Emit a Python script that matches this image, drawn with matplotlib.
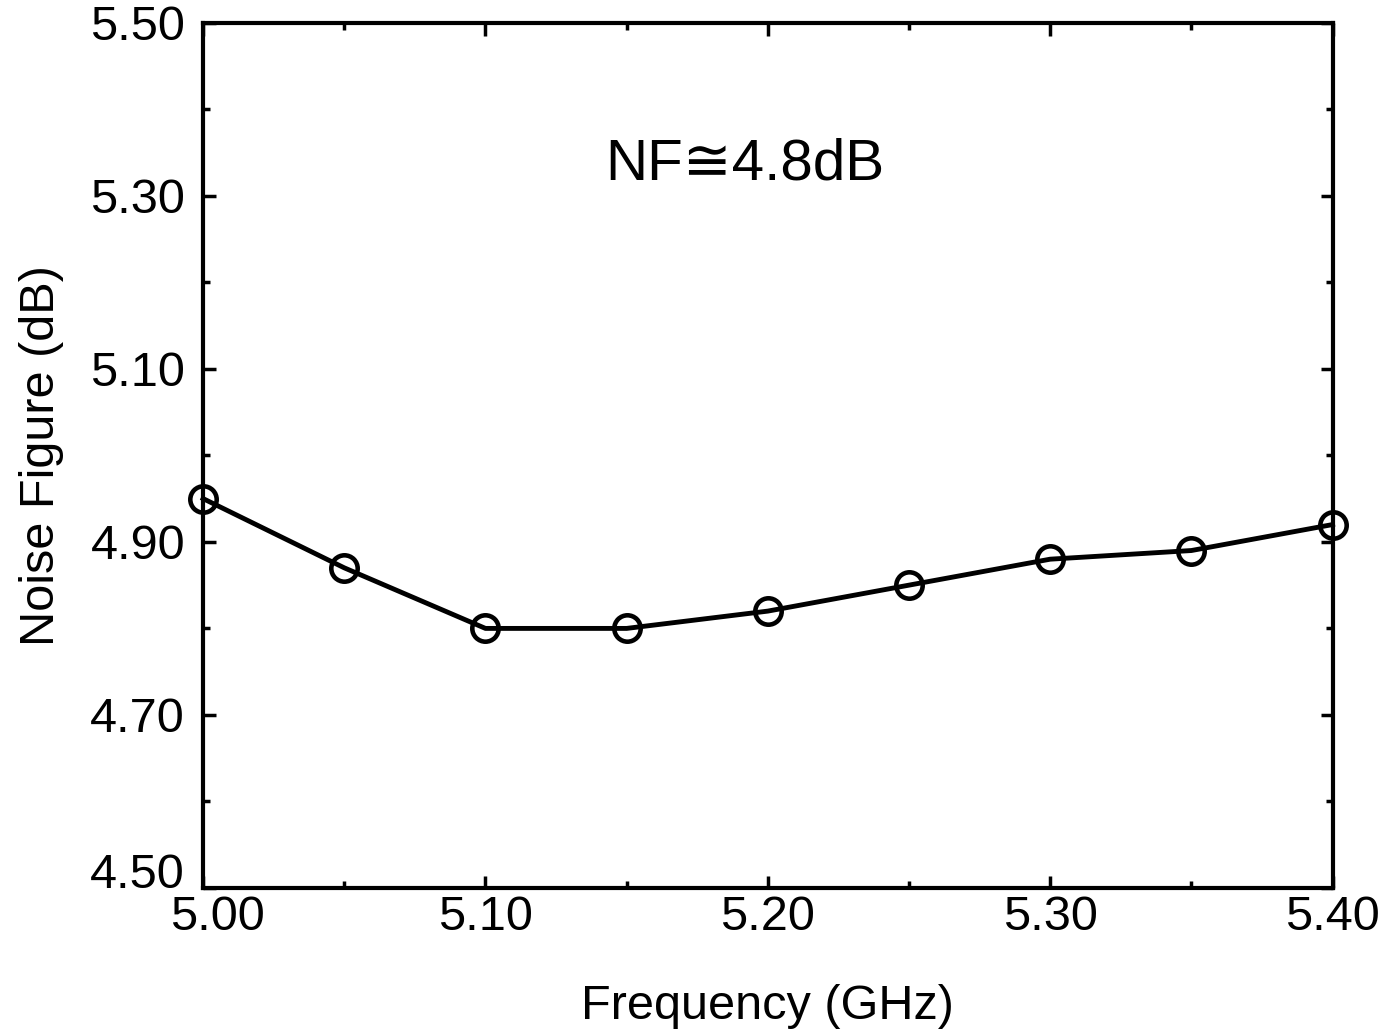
import numpy as np
import matplotlib
matplotlib.use('Agg')
import matplotlib.pyplot as plt
import matplotlib.transforms as mtransforms
from matplotlib.ticker import MultipleLocator

plt.rcParams['font.family'] = ['Liberation Sans', 'DejaVu Sans']

# 数据
freq = [5.00, 5.05, 5.10, 5.15, 5.20, 5.25, 5.30, 5.35, 5.40]
nf = [4.95, 4.87, 4.80, 4.80, 4.82, 4.85, 4.88, 4.89, 4.92]
yticks = [4.50, 4.70, 4.90, 5.10, 5.30, 5.50]
xticks = [5.00, 5.10, 5.20, 5.30, 5.40]

fig = plt.figure(figsize=(13.91, 10.29), dpi=100)
ax = fig.add_axes([0.146, 0.137, 0.812, 0.841])

ax.plot(freq, nf, '-o', color='black', linewidth=3.5, markersize=19,
        markerfacecolor='none', markeredgewidth=3.3, clip_on=False, zorder=3)

ax.set_xlim(5.00, 5.40)
ax.set_ylim(4.50, 5.50)
ax.set_xticks(xticks)
ax.set_yticks(yticks)
ax.xaxis.set_minor_locator(MultipleLocator(0.05))
ax.yaxis.set_minor_locator(MultipleLocator(0.1))
ax.xaxis.set_major_formatter(plt.FormatStrFormatter('%.2f'))
ax.yaxis.set_major_formatter(plt.FormatStrFormatter('%.2f'))

ax.tick_params(which='both', direction='in', top=True, right=True,
               labelsize=35, width=2.5, color='black')
ax.tick_params(which='major', length=9)
ax.tick_params(axis='x', which='major', pad=5)
ax.tick_params(axis='y', which='major', pad=13)
ax.tick_params(which='minor', length=5)
for s in ax.spines.values():
    s.set_linewidth(3)

ax.set_xlabel('Frequency (GHz)', fontsize=35, labelpad=32)
ax.set_ylabel('Noise Figure (dB)', fontsize=35, labelpad=19)

ax.text(5.192, 5.336, 'NF≅4.8dB', fontsize=42, ha='center', va='center')

# 角上两个刻度标签错开，避免重叠
fig.canvas.draw()
ylab0 = ax.get_yticklabels()[0]
ylab0.set_va('baseline')
xlab0 = ax.get_xticklabels()[0]
xlab0.set_transform(xlab0.get_transform() +
                    mtransforms.ScaledTranslation(14 / 100, 0, fig.dpi_scale_trans))

plt.savefig('out.png', dpi=100)
